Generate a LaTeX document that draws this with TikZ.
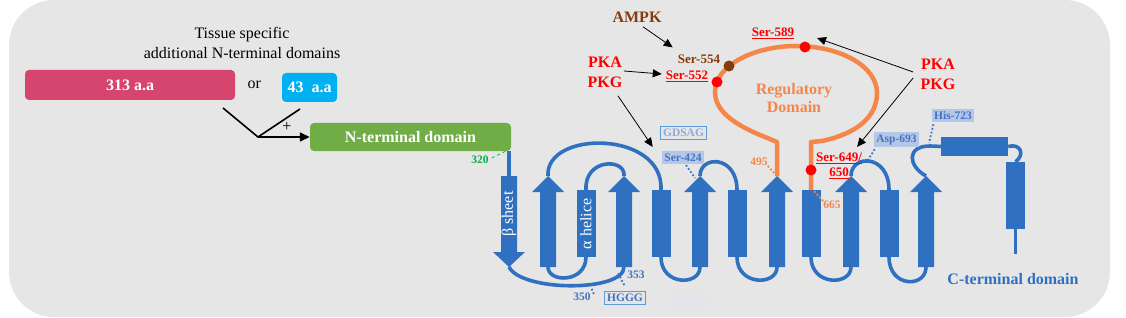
\documentclass[tikz,border=0pt]{standalone}
\usepackage{fontspec}
\setmainfont{Liberation Serif}
\usepackage{tikz}
\usetikzlibrary{arrows.meta,positioning,calc}
\definecolor{bggrey}{RGB}{230,230,230}
\definecolor{topoblue}{RGB}{47,112,192}
\definecolor{labblue}{RGB}{68,114,196}
\definecolor{boxfill}{RGB}{180,199,231}
\definecolor{regorange}{RGB}{245,134,73}
\definecolor{sitered}{RGB}{255,0,0}
\definecolor{ampkbrown}{RGB}{132,60,12}
\definecolor{pinkdom}{RGB}{214,69,110}
\definecolor{cyandom}{RGB}{0,176,240}
\definecolor{greendom}{RGB}{112,173,71}
\definecolor{numgreen}{RGB}{0,176,80}
\definecolor{frameblue}{RGB}{91,155,213}
\definecolor{gdsagtext}{RGB}{143,170,220}
\definecolor{faintbox}{RGB}{227,229,234}
\tikzset{
  dom/box/.style={rounded corners=4pt, text=white, inner sep=0pt, font=\bfseries\fontsize{16}{19}\selectfont},
  dom/txt/.style={align=center, font=\fontsize{16}{20}\selectfont},
  topo/strand/.style={fill=topoblue},
  topo/bar/.style={fill=topoblue, inner sep=0pt},
  topo/loop/.style={draw=topoblue, line width=3.6pt},
  topo/lab/.style={rotate=90, text=white, inner sep=0pt, font=\fontsize{16}{19}\selectfont},
  reg/line/.style={draw=regorange, line width=4.5pt, line join=round},
  reg/lab/.style={text=regorange, align=center, font=\bfseries\fontsize{16}{18}\selectfont},
  site/dot/.style={circle, inner sep=0pt, minimum size=11pt},
  site/kinase/.style={align=center, font=\bfseries\fontsize{16}{20}\selectfont},
  site/ser/.style={text=sitered, align=center, inner sep=1pt, font=\bfseries\fontsize{13}{15}\selectfont},
  site/box/.style={fill=boxfill, text=labblue, inner sep=2.5pt, font=\bfseries\fontsize{11.5}{13}\selectfont},
  site/frame/.style={draw=frameblue, line width=1.4pt, inner sep=2.5pt, font=\bfseries\fontsize{11.5}{13}\selectfont},
  site/num/.style={inner sep=0pt, font=\bfseries\fontsize{11.5}{13}\selectfont},
  site/pin/.style={dotted, line width=1.8pt},
  kin/arrow/.style={-{Triangle[length=9pt,width=8pt]}, line width=0.8pt},
  upstrand/.pic={
    \fill[topo/strand] (0,0) -- (16,16) -- (8,16) -- (8,91) -- (-8,91) -- (-8,16) -- (-16,16) -- cycle;
    \coordinate (-tip) at (0,0);
    \coordinate (-foot) at (0,91);
  },
  barstrand/.pic={
    \fill[topo/strand] (-9.5,0) rectangle (9.5,67);
    \coordinate (-top) at (0,0);
    \coordinate (-bot) at (0,67);
  }
}

\begin{document}
\begin{tikzpicture}[x=1pt, y=-1pt]
  \useasboundingbox (0,0) rectangle (1126,318);
  \fill[bggrey, rounded corners=45pt] (9,0) rectangle (1110,317);

  % N-terminal side
  \node[dom/txt] (tissue) at (242,43) {Tissue specific\\additional N-terminal domains};
  \node[dom/box, fill=pinkdom, minimum width=210pt, minimum height=30pt] (aa313) at (130,85) {313 a.a};
  \node[dom/txt, right=9pt of aa313] (or) {or};
  \node[dom/box, fill=cyandom, minimum width=55pt, minimum height=29pt] (aa43) at (309.5,87.5) {43\ \ a.a};
  \node[dom/box, fill=greendom, minimum width=201pt, minimum height=28pt] (nterm) at (410.5,137) {N-terminal domain};
  \coordinate (vleft) at (223,108);
  \coordinate (vright) at (300,109);
  \coordinate (join) at (258,137);
  \node[dom/txt] (plus) at (287,127) {+};
  \draw[line width=1.6pt] (vleft) -- (join) -- (vright);
  \draw[line width=1.6pt, -{Triangle[length=10pt,width=9pt]}] (join) -- (nterm.west);
  \node[site/num, text=numgreen] (n320) at (480,160) {320};
  \coordinate (p320) at (506,151);
  \draw[numgreen, dashed, line width=0.8pt] (n320.east) ++(3,-2) -- (p320);

  % strands
  \coordinate (btop) at (509,176);
  \coordinate (btip) at (509,267);
  \fill[topo/strand] (501,176) -- (517,176) -- (517,252) -- (525,252) -- (btip) -- (493,252) -- (501,252) -- cycle;
  \draw[topo/loop] (nterm.south -| btop) -- (btop);
  \node[topo/lab] (beta) at (509,214) {β sheet};
  \pic (u1) at (548,176) {upstrand};
  \pic (hx) at (586,190) {barstrand};
  \node[topo/lab] (alpha) at (586,224) {α helice};
  \pic (u2) at (624,176) {upstrand};
  \pic (r3) at (661,190) {barstrand};
  \pic (u4) at (700,176) {upstrand};
  \pic (r5) at (737,190) {barstrand};
  \pic (u6) at (777,176) {upstrand};
  \pic (r7) at (811,190) {barstrand};
  \pic (u8) at (851,176) {upstrand};
  \pic (r9) at (889,190) {barstrand};
  \pic (u10) at (926,176) {upstrand};
  \node[topo/bar, minimum width=67pt, minimum height=19pt] (hrect) at (974.5,146.5) {};
  \node[topo/bar, minimum width=19pt, minimum height=67pt] (vrect) at (1015.5,195.5) {};
  \coordinate (cend) at (1015.5,254);

  % loops
  \draw[topo/loop] (u1-tip) .. controls (545,130) and (664,130) .. (r3-top);
  \draw[topo/loop] (hx-top) .. controls (584,158) and (626,158) .. (u2-tip);
  \draw[topo/loop] (u1-foot) .. controls (548,283) and (586,283) .. (hx-bot);
  \draw[topo/loop] (btip) .. controls (522,292) and (624,292) .. (u2-foot);
  \draw[topo/loop] (r3-bot) .. controls (661,286) and (700,286) .. (u4-foot);
  \draw[topo/loop] (u4-tip) .. controls (700,155) and (737,155) .. (r5-top);
  \draw[topo/loop] (r5-bot) .. controls (737,286) and (777,286) .. (u6-foot);
  \draw[topo/loop] (r7-bot) .. controls (811,286) and (851,286) .. (u8-foot);
  \draw[topo/loop] (u8-tip) .. controls (851,154) and (889,154) .. (r9-top);
  \draw[topo/loop] (r9-bot) .. controls (889,288) and (926,288) .. (u10-foot);
  \draw[topo/loop] (u10-tip) .. controls (908,166) and (906,146) .. (930,146) -- (hrect.west);
  \draw[topo/loop] (hrect.east) .. controls (1021,143) and (1025,155) .. (vrect.north);
  \draw[topo/loop] (vrect.south) -- (cend);
  \node[text=topoblue, font=\bfseries\fontsize{16}{19}\selectfont] (cterm) at (1013,279) {C-terminal domain};

  % regulatory domain
  \draw[reg/line] (u6-tip) -- (777,142) -- (765,137)
    .. controls (732,124) and (715,110) .. (715,92)
    .. controls (715,65) and (755,46) .. (796,46)
    .. controls (840,46) and (877,66) .. (877,93)
    .. controls (877,118) and (855,134) .. (822,141) -- (811,142) -- (r7-top);
  \node[reg/lab] (regdom) at (794,98) {Regulatory\\Domain};
  \node[site/dot, fill=sitered] (d589) at (805,47) {};
  \node[site/dot, fill=sitered] (d552) at (717,82) {};
  \node[site/dot, fill=ampkbrown] (d554) at (729,66) {};
  \node[site/dot, fill=sitered] (d649) at (811,170) {};
  \node[site/num, text=regorange] (n495) at (759,162) {495};
  \coordinate (p495) at (777,176);
  \draw[site/pin, regorange] (n495.south east) -- (p495);
  \node[site/num, text=regorange] (n665) at (832,205) {665};
  \coordinate (p665) at (813,190);
  \draw[site/pin, regorange] (n665.north west) -- (p665);

  % phosphorylation sites and kinases
  \node[site/kinase, text=ampkbrown] (ampk) at (637,17) {AMPK};
  \node[site/kinase, text=sitered] (pkaL) at (605,72) {PKA\\PKG};
  \node[site/kinase, text=sitered] (pkaR) at (938,74) {PKA\\PKG};
  \node[site/ser, text=ampkbrown] (s554) at (699,59) {Ser-554};
  \node[site/ser] (s552) at (687,76) {\underline{Ser-552}};
  \node[site/ser] (s589) at (773,33) {\underline{Ser-589}};
  \node[site/ser] (s649) at (839,166) {\underline{Ser-649/}\\\underline{650}};
  \node[site/box] (s424) at (683,157.5) {Ser-424};
  \node[site/frame, text=gdsagtext] (gdsag) at (683.5,133) {GDSAG};
  \node[site/box] (a693) at (896.5,139.5) {Asp-693};
  \node[site/box] (h723) at (953,115.5) {His-723};
  \node[site/frame, text=labblue] (hggg) at (625,298) {HGGG};
  \node[fill=faintbox, minimum width=39pt, minimum height=18pt] (blank) at (688.5,301) {};
  \draw[kin/arrow] ($(ampk.south)+(6,1)$) -- ($(s554.north west)+(-4,-6)$);
  \draw[kin/arrow] ($(pkaL.east)+(-2,-1)$) -- ($(s552.west)+(-3,-2)$);
  \draw[kin/arrow] ($(pkaL.south)+(13,5)$) -- ($(s424.north west)+(-9,-4)$);
  \draw[kin/arrow] ($(pkaR.west)+(-4,-2)$) -- ($(d589)+(12,-9)$);
  \draw[kin/arrow] ($(pkaR.west)+(-4,4)$) -- ($(s649.north east)+(-6,-5)$);

  % residue pins
  \coordinate (p424) at (695,178);
  \draw[site/pin, labblue] (s424.south) ++(3,1) -- (p424);
  \coordinate (p693) at (868,160);
  \draw[site/pin, labblue] (a693.south west) ++(1,2) -- (p693);
  \coordinate (p723) at (929,143);
  \draw[site/pin, labblue] (h723.south west) ++(2,2) -- (p723);
  \node[site/num, text=labblue] (n350) at (582,297) {350};
  \coordinate (p350) at (591,287);
  \draw[site/pin, labblue] (n350.east) ++(3,-3) -- (p350);
  \node[site/num, text=labblue] (n353) at (636,275) {353};
  \coordinate (p353) at (618,273);
  \draw[site/pin, labblue] (n353.south west) ++(-3,6) -- (p353);
\end{tikzpicture}
\end{document}
